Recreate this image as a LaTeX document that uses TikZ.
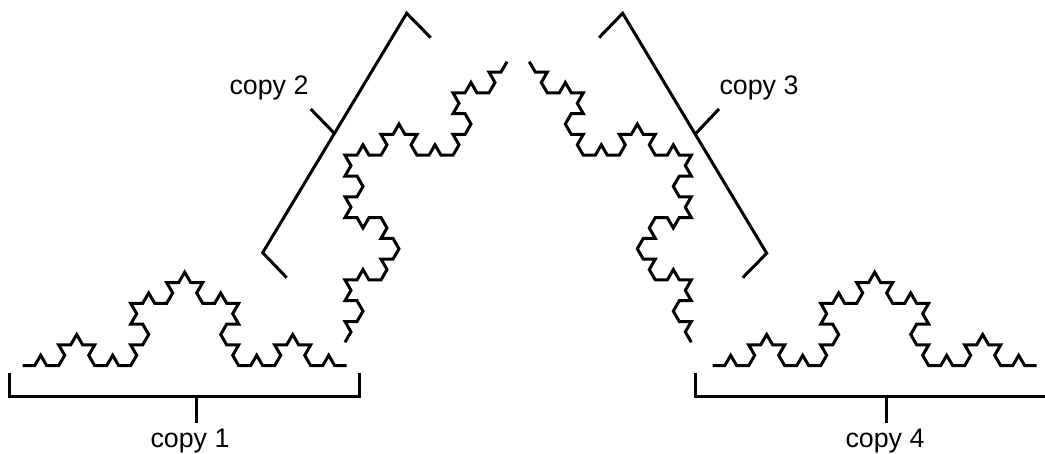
\documentclass[tikz,border=0pt]{standalone}
\usepackage{fontspec}
\setmainfont{Liberation Sans}
\usetikzlibrary{lindenmayersystems}

% Koch curve rule: bumps on the left of the direction of travel
\pgfdeclarelindenmayersystem{Koch curve}{
  \rule{F -> F+F--F+F}
}

\tikzset{
  koch/.style={line width=3pt, line join=miter, miter limit=10,
    l-system={Koch curve, axiom=F, order=3, step=12pt, angle=60}},
  brace/.style={line width=3pt, line join=miter},
  label/.style={font=\fontsize{26.8}{30}\selectfont, inner sep=0pt, anchor=base}
}

\begin{document}
\begin{tikzpicture}[x=1pt,y=1pt]
\useasboundingbox (0,0) rectangle (1045,454);
\clip (0,0) rectangle (1045,454);

% the four level-3 pieces
\begin{scope}[shift={(22.7,88.3)}]
  \draw[koch] (0,0) l-system;
\end{scope}
\begin{scope}[shift={(345,111.7)}, rotate=60]
  \draw[koch] (0,0) l-system;
\end{scope}
\begin{scope}[shift={(529.3,392.3)}, rotate=-60]
  \draw[koch] (0,0) l-system;
\end{scope}
\begin{scope}[shift={(712.7,88.3)}]
  \draw[koch] (0,0) l-system;
\end{scope}

% bracket under copy 1
\coordinate (b1a) at (9,80.7);
\coordinate (b1b) at (9,57.3);
\coordinate (b1c) at (359,57.3);
\coordinate (b1d) at (359,80.7);
\coordinate (t1a) at (196.7,57.3);
\coordinate (t1b) at (196.7,30.7);
\draw[brace] (b1a) -- (b1b) -- (b1c) -- (b1d);
\draw[brace] (t1a) -- (t1b);
\node[label] (l1) at (190,6) {copy 1};

% bracket beside copy 2
\coordinate (b2a) at (286.7,176.3);
\coordinate (b2b) at (262.7,201.3);
\coordinate (b2c) at (406.7,440.7);
\coordinate (b2d) at (430.7,416.3);
\coordinate (t2a) at (334.3,320.7);
\coordinate (t2b) at (310.7,345);
\draw[brace] (b2a) -- (b2b) -- (b2c) -- (b2d);
\draw[brace] (t2a) -- (t2b);
\node[label] (l2) at (269,359) {copy 2};

% bracket beside copy 3
\coordinate (b3a) at (599,416.3);
\coordinate (b3b) at (622.7,440.7);
\coordinate (b3c) at (766.7,200.7);
\coordinate (b3d) at (742.7,176.3);
\coordinate (t3a) at (696,320.7);
\coordinate (t3b) at (719,345);
\draw[brace] (b3a) -- (b3b) -- (b3c) -- (b3d);
\draw[brace] (t3a) -- (t3b);
\node[label] (l3) at (759,359) {copy 3};

% bracket under copy 4
\coordinate (b4a) at (695,80.7);
\coordinate (b4b) at (695,57.3);
\coordinate (b4c) at (1060,57.3);
\coordinate (t4a) at (886.7,57.3);
\coordinate (t4b) at (886.7,30.7);
\draw[brace] (b4a) -- (b4b) -- (b4c);
\draw[brace] (t4a) -- (t4b);
\node[label] (l4) at (885,6) {copy 4};
\end{tikzpicture}
\end{document}
